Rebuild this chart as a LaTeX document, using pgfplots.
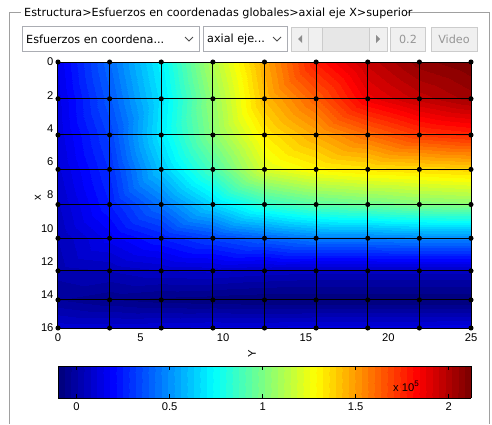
\documentclass[border=0pt]{standalone}
\usepackage{pgfplots}
\pgfplotsset{compat=1.18}
\usepackage{pgfplotstable}
\usepackage{fontspec}
\setmainfont{Liberation Sans}
\newfontfamily\uifont{DejaVu Sans}

\definecolor{framegray}{RGB}{160,160,160}
\definecolor{boxborder}{RGB}{171,173,179}
\definecolor{dimfill}{RGB}{240,240,240}
\definecolor{dimborder}{RGB}{204,204,204}
\definecolor{dimtext}{RGB}{150,150,150}
\definecolor{trough}{RGB}{231,231,231}

% 64-step jet, as in the 64-colour default map
\pgfplotsset{colormap/jet}
\pgfplotsset{colormap={jetsteps}{samples of colormap=(64 of jet)}}

% axial stress (x 10^5) at the mesh nodes; Y across, X down
\pgfplotstableread{
Y X c
0      0     0.15
3.125  0     0.42
6.25   0     0.72
9.375  0     1.12
12.5   0     1.47
15.625 0     1.78
18.75  0     1.96
21.875 0     2.07
25     0     2.12
0      2.21  0.13
3.125  2.21  0.38
6.25   2.21  0.68
9.375  2.21  1.06
12.5   2.21  1.43
15.625 2.21  1.63
18.75  2.21  1.86
21.875 2.21  1.96
25     2.21  2.03
0      4.39  0.12
3.125  4.39  0.33
6.25   4.39  0.70
9.375  4.39  1.03
12.5   4.39  1.32
15.625 4.39  1.47
18.75  4.39  1.60
21.875 4.39  1.71
25     4.39  1.75
0      6.46  0.10
3.125  6.46  0.29
6.25   6.46  0.62
9.375  6.46  0.90
12.5   6.46  1.21
15.625 6.46  1.30
18.75  6.46  1.34
21.875 6.46  1.36
25     6.46  1.38
0      8.57  0.07
3.125  8.57  0.25
6.25   8.57  0.44
9.375  8.57  0.66
12.5   8.57  0.84
15.625 8.57  0.93
18.75  8.57  0.97
21.875 8.57  1.01
25     8.57  1.03
0      10.6  0.04
3.125  10.6  0.16
6.25   10.6  0.25
9.375  10.6  0.33
12.5   10.6  0.40
15.625 10.6  0.46
18.75  10.6  0.46
21.875 10.6  0.48
25     10.6  0.48
0      12.56 0.02
3.125  12.56 0.04
6.25   12.56 0.07
9.375  12.56 0.08
12.5   12.56 0.06
15.625 12.56 0.05
18.75  12.56 0.05
21.875 12.56 0.05
25     12.56 0.05
0      14.31 -0.03
3.125  14.31 -0.06
6.25   14.31 -0.08
9.375  14.31 -0.09
12.5   14.31 -0.10
15.625 14.31 -0.10
18.75  14.31 -0.10
21.875 14.31 -0.10
25     14.31 -0.10
0      16    0.10
3.125  16    0.10
6.25   16    0.11
9.375  16    0.12
12.5   16    0.12
15.625 16    0.13
18.75  16    0.13
21.875 16    0.13
25     16    0.14
}\stressdata

\newcommand{\guifont}{\uifont\fontsize{11.2}{13}\selectfont}
\newcommand{\axfont}{\fontsize{11.2}{13}\selectfont}

\begin{document}
\begin{tikzpicture}
\path[use as bounding box, fill=white] (0,0) rectangle (492pt,-424pt);

\begin{scope}[x=1pt,y=-1pt]
  % panel frame with its title
  \draw[framegray] (21,12) -- (9,12) -- (9,424);
  \draw[framegray] (407,12) -- (489,12) -- (489,424);
  \node[anchor=base west, inner sep=0pt, font=\guifont] at (24,16)
    {Estructura>Esfuerzos en coordenadas globales>axial eje X>superior};

  % first pop-up menu
  \draw[boxborder, fill=white] (22,26) rectangle (199,51);
  \node[anchor=west, inner sep=0pt, font=\guifont] at (26,39) {Esfuerzos en coordena...};
  \draw[black!70, line width=0.9pt] (185,37) -- (189,41) -- (193,37);
  % second pop-up menu
  \draw[boxborder, fill=white] (203,26) rectangle (287,51);
  \node[anchor=west, inner sep=0pt, font=\guifont] at (207,39) {axial eje...};
  \draw[black!70, line width=0.9pt] (273,37) -- (277,41) -- (281,37);
  % slider
  \draw[dimborder, fill=trough] (291,27) rectangle (387,51);
  \draw[dimborder, fill=dimfill] (291,27) rectangle (308,51);
  \draw[dimborder, fill=dimfill] (369,27) rectangle (387,51);
  \draw[dimborder, fill=dimfill] (308,27) rectangle (322,51);
  \fill[black!45] (302,35) -- (298,39) -- (302,43) -- cycle;
  \fill[black!45] (376,35) -- (380,39) -- (376,43) -- cycle;
  % disabled step box and button
  \draw[dimborder, fill=dimfill] (390,27) rectangle (425,51);
  \node[font=\guifont, text=dimtext] at (408,39) {0.2};
  \draw[dimborder, fill=dimfill] (431,27) rectangle (477,51);
  \node[font=\guifont, text=dimtext] at (454,39.5) {Video};
\end{scope}

\begin{axis}[
  at={(58pt,-62pt)}, anchor=north west,
  scale only axis, width=413pt, height=266pt,
  xmin=0, xmax=25, ymin=0, ymax=16,
  y dir=reverse,
  xtick={0,5,...,25}, ytick={0,2,...,16},
  major tick length=0pt,
  axis line style={black},
  clip=false,
  /pgf/number format/assume math mode=true,
  tick label style={font=\axfont},
  xticklabel style={yshift=-2pt},
  yticklabel style={xshift=-1pt},
  xlabel={Y}, ylabel={x},
  every axis x label/.style={at={(axis description cs:0.47,0)}, anchor=center,
    yshift=-26pt, rotate=90, font=\axfont},
  every axis y label/.style={at={(axis description cs:0,0.49)}, anchor=center,
    xshift=-20pt, rotate=90, font=\axfont},
  colormap name=jetsteps,
  colormap access=piecewise constant,
  point meta min=-0.1, point meta max=2.12,
  colorbar horizontal,
  colorbar style={
    at={(0,-0.1429)}, anchor=north west,
    scale only axis, width=413pt, height=32pt,
    xtick={0,0.5,...,2},
    xtick pos=both, xticklabel pos=lower,
    xtick align=inside,
    major tick length=4pt,
    tick style={black, thin},
    axis line style={black},
    /pgf/number format/assume math mode=true,
    xticklabel style={font=\axfont, yshift=-1pt},
  },
]
\addplot[surf, shader=faceted interp, faceted color=black,
  line width=1pt,
  mesh/rows=9, mesh/cols=9,
  point meta=explicit,
  mark=*, mark size=2pt, mark options={draw=black, fill=black}]
  table[x=Y, y=X, meta=c] {\stressdata};
\end{axis}

\node[font=\axfont, inner sep=0pt, anchor=base west] at (393pt,-391pt)
  {x 10\raisebox{0.75ex}{\fontsize{8}{9}\selectfont 5}};
\end{tikzpicture}
\end{document}
